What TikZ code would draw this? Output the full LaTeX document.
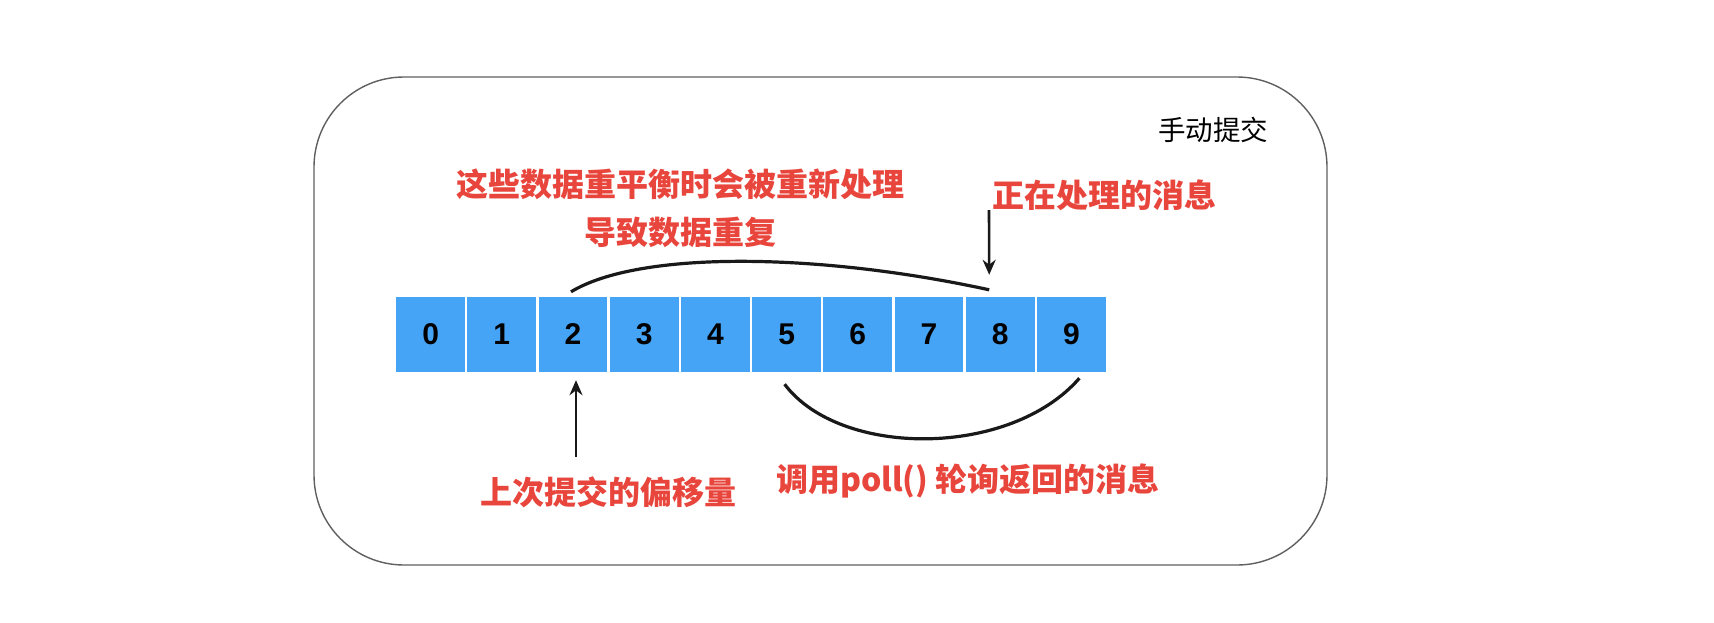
\documentclass[tikz,border=0pt]{standalone}
\usepackage{fontspec}
\usepackage{xcolor}
\usepackage{tikz}
\usetikzlibrary{arrows.meta, positioning}
\setmainfont{Liberation Sans}
\newfontfamily\cjk{Noto Sans CJK SC}

\definecolor{cellblue}{RGB}{69,164,245}
\definecolor{notered}{RGB}{232,69,60}
\definecolor{framegray}{RGB}{95,95,95}

\begin{document}
\begin{tikzpicture}[>={Stealth[length=15pt, width=13pt]}, x=1pt, y=-1pt,
		cell/.style={draw=white, line width=2.4pt, fill=cellblue, minimum width=71.2pt, minimum height=77pt, inner sep=0pt, font=\bfseries\fontsize{30}{30}\selectfont},
		redlabel/.style={text=notered, align=center, font=\cjk\bfseries\fontsize{32}{48}\selectfont},
		arc/.style={line width=3.2pt, color=black!90},
		pointer/.style={->, line width=2.6pt, color=black!90}]
		\useasboundingbox (0,0) rectangle (1714,622);

		% Outer frame
		\draw[framegray, line width=1.4pt, rounded corners=90pt] (314,77) rectangle (1327,565);
		\node[font=\cjk\fontsize{27.5}{30}\selectfont] (mode) at (1213,130) {手动提交};

		% Offsets 0..9
		\foreach \i in {0,...,9}
			\node[cell] (c\i) at ({430.6+71.2*\i},334.5) {\i};

		% Labels
		\node[redlabel] (redo) at (680,208) {这些数据重平衡时会被重新处理\\导致数据重复};
		\node[redlabel] (current) at (1104,195) {正在处理的消息};
		\node[redlabel] (committed) at (608,492) {上次提交的偏移量};
		\node[redlabel] (polled) at (968,481) {调用poll() 轮询返回的消息};

		% Reprocessed range 2..8
		\draw[arc] ([xshift=-2pt,yshift=3pt]c2.north) .. controls (640,250) and (820,253) .. ([xshift=-11pt,yshift=5pt]c8.north);
		% Range returned by poll()
		\draw[arc] ([xshift=-2pt,yshift=-10pt]c5.south) .. controls (840,458) and (1010,458) .. ([xshift=8pt,yshift=-4pt]c9.south);

		% Pointers
		\coordinate (downTail) at (989,210);
		\draw[pointer] (downTail) -- ([xshift=-11pt,yshift=20pt]c8.north);
		\coordinate (upTail) at (576,457);
		\draw[pointer] (upTail) -- ([xshift=3pt,yshift=-6pt]c2.south);

	\end{tikzpicture}
\end{document}
